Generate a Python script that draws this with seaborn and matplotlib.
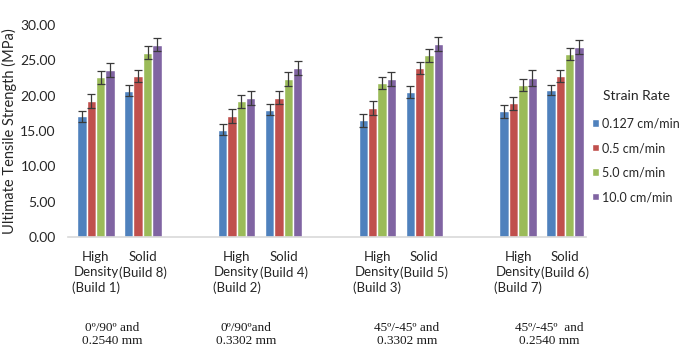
import pandas as pd
import matplotlib.pyplot as plt
import matplotlib.transforms as mtransforms
import seaborn as sns
import numpy as np

# Data
slots = ['HD1', 'S8', 'gap1', 'HD2', 'S4', 'gap2', 'HD3', 'S5', 'gap3', 'HD7', 'S6']
slot_labels = ['High\nDensity\n(Build 1)', 'Solid\n(Build 8)', '',
               'High\nDensity\n(Build 2)', 'Solid\n(Build 4)', '',
               'High\nDensity\n(Build 3)', 'Solid\n(Build 5)', '',
               'High\nDensity\n(Build 7)', 'Solid\n(Build 6)']
builds = ['HD1', 'S8', 'HD2', 'S4', 'HD3', 'S5', 'HD7', 'S6']
rates = ['0.127 cm/min', '0.5 cm/min', '5.0 cm/min', '10.0 cm/min']

uts_0127 = [17.1, 20.7, 15.2, 18.0, 16.5, 20.5, 17.8, 20.8]
uts_05 = [19.2, 22.8, 17.1, 19.7, 18.3, 23.9, 18.9, 22.8]
uts_50 = [22.6, 26.1, 19.2, 22.4, 21.8, 25.7, 21.5, 25.9]
uts_100 = [23.6, 27.2, 19.7, 23.9, 22.3, 27.3, 22.5, 26.9]

err_0127 = [0.8, 0.8, 0.8, 0.8, 0.9, 0.8, 0.9, 0.7]
err_05 = [1.0, 0.8, 1.0, 0.9, 1.0, 0.8, 0.9, 0.9]
err_50 = [0.9, 0.9, 0.9, 1.0, 0.9, 0.9, 0.9, 0.9]
err_100 = [1.0, 0.9, 1.0, 1.0, 1.0, 1.0, 1.1, 1.0]

group_notes = ['0º/90º and\n0.2540 mm', '0º/90ºand\n0.3302 mm',
               '45º/-45º and\n0.3302 mm', '45º/-45º  and\n0.2540 mm']
note_x = [0.34, 3.2, 6.63, 9.66]   # where each note sits on the category axis

colors = ['#4F81BD', '#C0504D', '#9BBB59', '#8064A2']

# Long table for seaborn
rows = []
for rate, vals, errs in zip(rates, [uts_0127, uts_05, uts_50, uts_100],
                            [err_0127, err_05, err_50, err_100]):
    for b, v, e in zip(builds, vals, errs):
        rows.append({'build': b, 'rate': rate, 'uts': v, 'err': e})
df = pd.DataFrame(rows)

sns.set_style('white')
plt.rcParams['font.family'] = ['Lato', 'DejaVu Sans']

fig = plt.figure(figsize=(6.81, 3.5), dpi=100)
ax = fig.add_axes([72.5 / 681, 113 / 350, 516 / 681, 212 / 350])

sns.barplot(data=df, x='build', y='uts', hue='rate', order=slots, hue_order=rates,
            palette=colors, width=0.8, errorbar=None, saturation=1, ax=ax)

# error bars at the bar centres
for rate, cont in zip(rates, ax.containers):
    sub = df[df['rate'] == rate].set_index('build')
    for bar in cont:
        cx = bar.get_x() + bar.get_width() / 2
        slot = slots[int(round(cx))]
        ax.errorbar(cx, bar.get_height(), yerr=sub.loc[slot, 'err'], fmt='none',
                    ecolor='#3a3a3a', elinewidth=0.9, capsize=3, capthick=0.9)

ax.set_ylim(0, 30)
ax.set_xlim(-0.5, len(slots) - 0.5)
ax.set_yticks(np.arange(0, 31, 5))
ax.set_yticklabels([f'{v:.2f}' for v in np.arange(0, 31, 5)], fontsize=10, color='#262626')
ax.set_xticks(range(len(slots)))
ax.set_xticklabels(slot_labels, fontsize=9.5, color='#262626', linespacing=1.3)
shift = mtransforms.ScaledTranslation(-4 / 72, 0, fig.dpi_scale_trans)
for lab in ax.get_xticklabels():
    lab.set_transform(lab.get_transform() + shift)
ax.tick_params(axis='x', length=0, pad=10)
ax.tick_params(axis='y', length=0, pad=12)
ax.set_xlabel('')
ax.set_ylabel('Ultimate Tensile Strength (MPa)', fontsize=10.5, color='#262626')
ax.yaxis.set_label_coords(-0.108, 0.5)
for s in ['top', 'right', 'left']:
    ax.spines[s].set_visible(False)
ax.spines['bottom'].set_color('#d9d9d9')
ax.spines['bottom'].set_linewidth(1.2)
ax.spines['bottom'].set_bounds(-0.6, len(slots) - 0.55)

# configuration notes under each pair
for xc, note in zip(note_x, group_notes):
    ax.text(xc, -0.40, note, transform=ax.get_xaxis_transform(), ha='center', va='top',
            fontsize=9.5, family='Liberation Serif', color='#1a1a1a', linespacing=1.1)

handles, labels = ax.get_legend_handles_labels()
ax.legend_.remove()
leg = fig.legend(handles, labels, title='Strain Rate', loc='upper left',
                 bbox_to_anchor=(586 / 681, 1 - 84 / 350), frameon=False, borderpad=0,
                 fontsize=9, title_fontsize=10, handlelength=0.55, handleheight=0.55,
                 handletextpad=0.25, labelspacing=1.0)
leg._legend_box.sep = 11
leg.get_title().set_color('#262626')
for t in leg.get_texts():
    t.set_color('#262626')

fig.savefig('out.png', dpi=100)
